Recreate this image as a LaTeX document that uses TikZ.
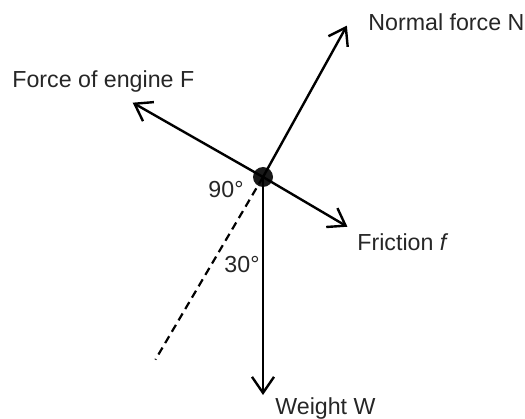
\documentclass[tikz,border=0pt]{standalone}
\usepackage{fontspec}
\setmainfont{Liberation Sans}
\usepackage{tikz}
\usetikzlibrary{arrows.meta, positioning, calc}

\begin{document}
\begin{tikzpicture}[x=0.5pt, y=0.5pt,
      force/.style={line width=1.2pt, -{Straight Barb[length=8pt, width=11pt, line width=1.2pt]}},
      guide/.style={line width=1.1pt, dash pattern=on 4pt off 2.6pt},
      lbl/.style={inner sep=0pt, font=\fontsize{11.6}{13.6}\selectfont, text=black!85},
      body/.style={circle, fill=black!90, minimum size=10pt, inner sep=0pt}
    ]
    \useasboundingbox (0,0) rectangle (525,418);

    % Car as a point
    \node[body] (car) at (263,241) {};

    % Tips of the force arrows
    \coordinate (Ntip) at ($(car.center)+(61:173)$);
    \coordinate (Ftip) at ($(car.center)+(150.3:150)$);
    \coordinate (ftip) at ($(car.center)+(-30.5:98)$);
    \coordinate (Wtip) at ($(car.center)+(-90:218)$);
    \coordinate (slope) at ($(car.center)+(239.5:212)$);

    % Forces
    \draw[force] (car.center) -- (Ntip);
    \draw[force] (car.center) -- (Ftip);
    \draw[force] (car.center) -- (ftip);
    \draw[force] (car.center) -- (Wtip);
    \draw[guide] (car.center) -- (slope);

    % Labels
    \node[lbl, anchor=west] (Nlbl) at (368,396) {Normal force N};
    \node[lbl, anchor=west] (Flbl) at (12,336) {Force of engine F};
    \node[lbl, anchor=west] (flbl) at (357,176) {Friction \textit{f}};
    \node[lbl, anchor=west] (Wlbl) at (275,9) {Weight W};
    \node[lbl] (rightangle) at (226,228) {90°};
    \node[lbl] (tilt) at (242,153) {30°};
  \end{tikzpicture}
\end{document}
